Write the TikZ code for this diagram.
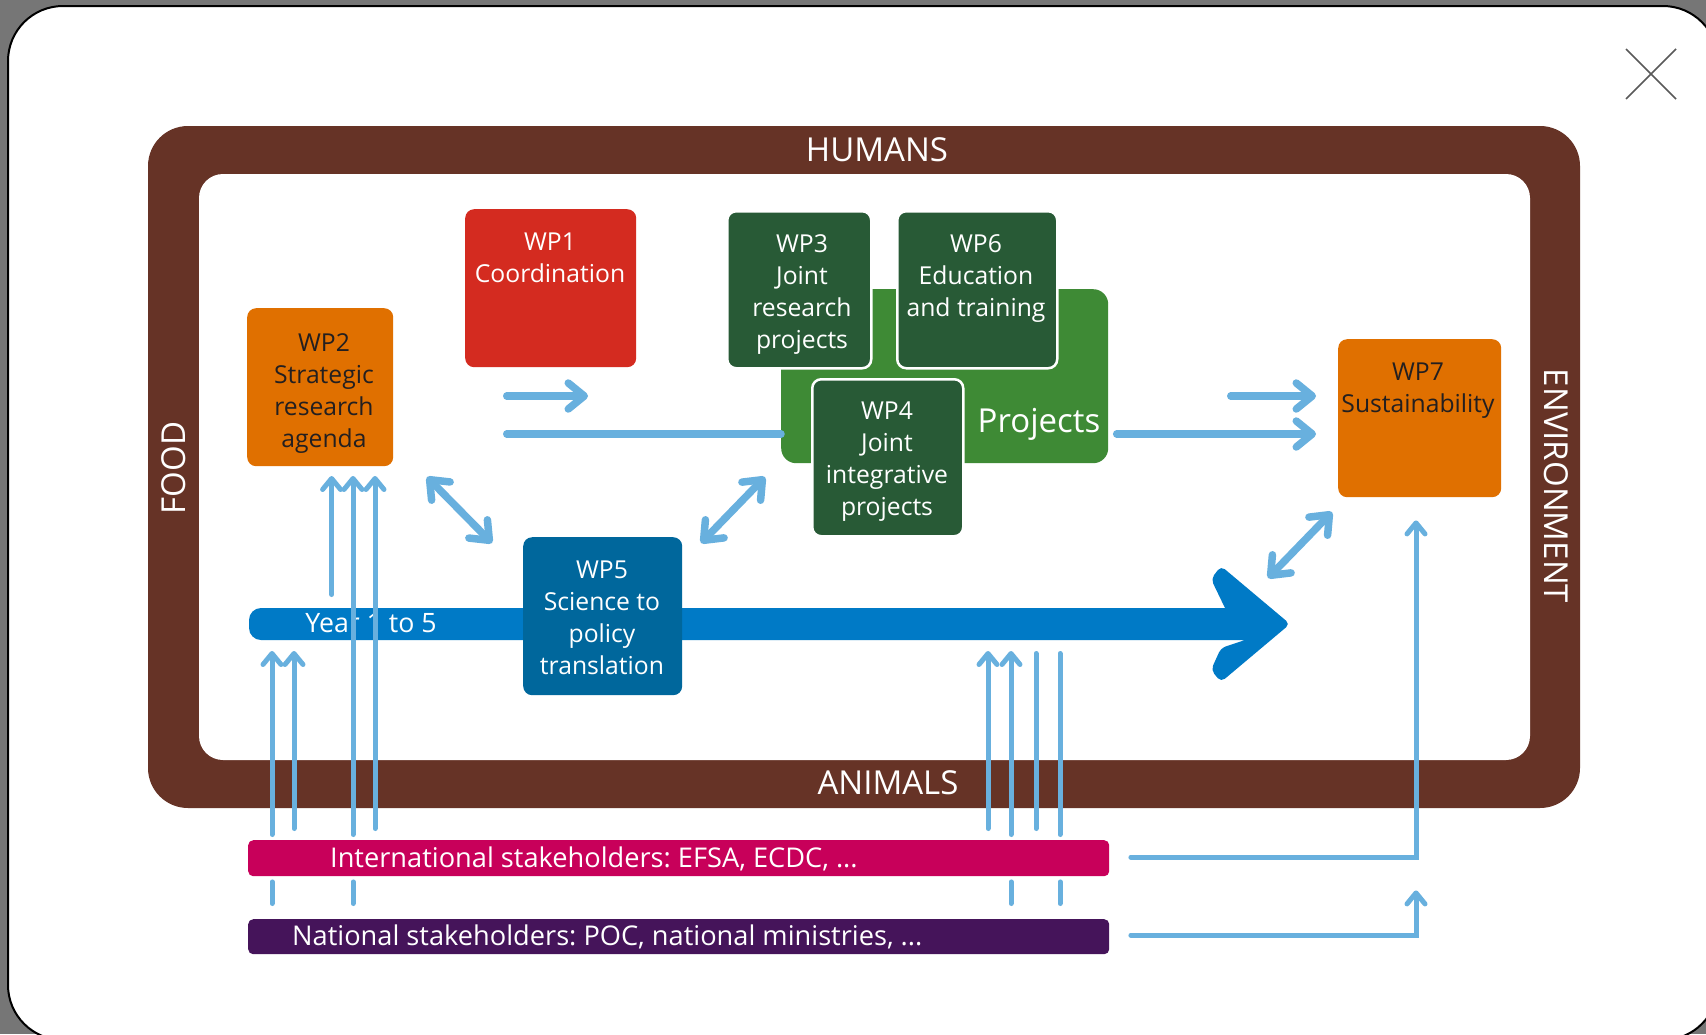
\documentclass[tikz,border=0pt]{standalone}
\usepackage{fontspec}
\setmainfont{Open Sans}
\usetikzlibrary{arrows.meta}
\definecolor{bgray}{HTML}{767676}
\definecolor{framebrown}{HTML}{663326}
\definecolor{wpred}{HTML}{D42B20}
\definecolor{wporange}{HTML}{E07000}
\definecolor{wpdgreen}{HTML}{285A36}
\definecolor{projgreen}{HTML}{3E8A35}
\definecolor{wpblue}{HTML}{00679C}
\definecolor{tlblue}{HTML}{007AC6}
\definecolor{intlpink}{HTML}{C8005A}
\definecolor{natpurple}{HTML}{45145A}
\definecolor{linkblue}{HTML}{68B0DE}
\definecolor{darktext}{HTML}{231F20}
\frenchspacing
\begin{document}
\begin{tikzpicture}[x=1pt,y=-1pt,
  wpbox/.style={rectangle, rounded corners=9pt, inner sep=0pt, anchor=north west},
  wtext/.style={font=\fontsize{24.7pt}{32pt}\selectfont, text=white, align=center, inner sep=0pt, anchor=north},
  dtext/.style={wtext, text=darktext},
  bandtext/.style={font=\fontsize{33pt}{38pt}\selectfont, text=white, inner sep=0pt},
  stktext/.style={font=\fontsize{27.2pt}{32pt}\selectfont, text=white, inner sep=0pt, anchor=base west},
  lnk/.style={draw=linkblue, line width=5pt, line cap=round},
  lnkw/.style={draw=linkblue, line width=7.5pt, line cap=round},
  tipS/.tip={Straight Barb[length=11pt,width=18pt,round]},
  tipL/.tip={Straight Barb[length=16pt,width=26pt,round]},
]
\useasboundingbox (0,0) rectangle (1706,1034);
\fill[bgray] (0,0) rectangle (1706,1034);
% modal
\draw[fill=white, line width=2pt, rounded corners=55pt] (8,6) rectangle (1718,1040);
\draw[black!65, line width=1.6pt] (1626,49) -- (1676,99) (1676,49) -- (1626,99);
% frame
\fill[framebrown, rounded corners=40pt] (148,126) rectangle (1580,808);
\fill[white, rounded corners=24pt] (199,174) rectangle (1530,760);
\node[bandtext] (humans) at (877,150) {HUMANS};
\node[bandtext] (animals) at (888,783) {ANIMALS};
\node[bandtext, rotate=90] (food) at (174,468) {FOOD};
\node[bandtext, rotate=-90] (env) at (1556,486) {ENVIRONMENT};
% timeline
\fill[tlblue] (700,608) -- (1225,608) [rounded corners=5pt] -- (1211,579) -- (1221,566) -- (1290,624) -- (1221,682) -- (1211,670) -- (1221,648) [sharp corners] -- (1245,640) [rounded corners=12pt] -- (249,640) -- (249,608) [sharp corners] -- (700,608) -- cycle;
\node[font=\fontsize{26.7pt}{32pt}\selectfont, text=white, inner sep=0pt, anchor=base] (year) at (371,632.5) {Year 1 to 5};
% boxes
\node[wpbox, fill=projgreen, rounded corners=15pt, minimum width=327pt, minimum height=174pt] (proj) at (781,289) {};
\node[font=\fontsize{33pt}{38pt}\selectfont, text=white, inner sep=0pt, anchor=base] (projt) at (1039,432) {Projects};
\node[wpbox, fill=wpdgreen, draw=white, line width=2.5pt, minimum width=144pt, minimum height=157pt] (wp3) at (726,210) {};
\node[wtext] (wp3t) at (802,234) {WP3\\Joint\\research\\projects};
\node[wpbox, fill=wpdgreen, draw=white, line width=2.5pt, minimum width=160pt, minimum height=157pt] (wp6) at (896,210) {};
\node[wtext] (wp6t) at (976,234) {WP6\\Education\\and training};
\node[wpbox, fill=wpdgreen, draw=white, line width=2.5pt, minimum width=151pt, minimum height=157pt] (wp4) at (811,378) {};
\node[wtext] (wp4t) at (887,402) {WP4\\Joint\\integrative\\projects};
\node[wpbox, fill=wpred, minimum width=171pt, minimum height=158pt] (wp1) at (465,209) {};
\node[wtext] (wp1t) at (550,233) {WP1\\Coordination};
\node[wpbox, fill=wporange, minimum width=146pt, minimum height=158pt] (wp2) at (247,308) {};
\node[dtext] (wp2t) at (324,333) {WP2\\Strategic\\research\\agenda};
\node[wpbox, fill=wpblue, minimum width=159pt, minimum height=158pt] (wp5) at (523,537) {};
\node[wtext] (wp5t) at (602,561) {WP5\\Science to\\policy\\translation};
\node[wpbox, fill=wporange, minimum width=163pt, minimum height=158pt] (wp7) at (1338,339) {};
\node[dtext] (wp7t) at (1418,363) {WP7\\Sustainability};
% stakeholder bars
\node[wpbox, rounded corners=5pt, fill=intlpink, minimum width=861pt, minimum height=36pt] (intl) at (248,840) {};
\node[stktext] (intlt) at (330,867.5) {International stakeholders: EFSA, ECDC, ...};
\node[wpbox, rounded corners=5pt, fill=natpurple, minimum width=861pt, minimum height=35pt] (natl) at (248,919) {};
\node[stktext] (natlt) at (292,945.5) {National stakeholders: POC, national ministries, ...};
% helper coordinates
\coordinate (c1s) at (506.75,396);
\coordinate (c1e) at (588,396);
\coordinate (c7s) at (1230.75,396);
\coordinate (c7e) at (1316,396);
\coordinate (lstart) at (506.75,434);
\coordinate (d1a) at (427,477);
\coordinate (d1b) at (492,543);
\coordinate (d2a) at (701,543);
\coordinate (d2b) at (765,477);
\coordinate (d3a) at (1268,578);
\coordinate (d3b) at (1332,512);
\coordinate (tlbelow) at (0,651);
\coordinate (wp2below) at (0,476);
\coordinate (xL1) at (331.6,0);
\coordinate (xL2) at (353,0);
\coordinate (xL3) at (375,0);
\coordinate (xL4) at (272,0);
\coordinate (xL5) at (294,0);
\coordinate (xR1) at (988,0);
\coordinate (xR2) at (1011,0);
\coordinate (xR3) at (1036,0);
\coordinate (xR4) at (1060,0);
\coordinate (xW7) at (1416,0);
\coordinate (l1bot) at (331.6,594.5);
% thick connectors
\draw[lnkw,-tipL] (c1s) -- (c1e);
\draw[lnkw,-tipL] (c7s) -- (c7e);
\draw[lnkw] (lstart) -- (lstart -| proj.west);
\draw[lnkw,-tipL] ([xshift=8.25pt]proj.east |- lstart) -- (wp7.west |- lstart) [shorten >=22pt];
\draw[lnkw,tipL-tipL] (d1a) -- (d1b);
\draw[lnkw,tipL-tipL] (d2a) -- (d2b);
\draw[lnkw,tipL-tipL] (d3a) -- (d3b);
% thin vertical connectors
\draw[lnk,-tipS] (l1bot) -- (xL1 |- wp2below);
\draw[lnk,-tipS] ([yshift=5.5pt]intl.north -| xL2) -- (xL2 |- wp2below);
\draw[lnk,-tipS] ([yshift=11.5pt]intl.north -| xL3) -- (xL3 |- wp2below);
\draw[lnk,-tipS] ([yshift=5.5pt]intl.north -| xL4) -- (xL4 |- tlbelow);
\draw[lnk,-tipS] ([yshift=11.5pt]intl.north -| xL5) -- (xL5 |- tlbelow);
\draw[lnk,-tipS] ([yshift=11.5pt]intl.north -| xR1) -- (xR1 |- tlbelow);
\draw[lnk,-tipS] ([yshift=5.5pt]intl.north -| xR2) -- (xR2 |- tlbelow);
\draw[lnk] ([yshift=11.5pt]intl.north -| xR3) -- ([yshift=-2.5pt]xR3 |- tlbelow);
\draw[lnk] ([yshift=5.5pt]intl.north -| xR4) -- ([yshift=-2.5pt]xR4 |- tlbelow);
% segments between the stakeholder bars
\draw[lnk] ([yshift=-5.5pt]intl.south -| xL4) -- ([yshift=15.5pt]natl.north -| xL4);
\draw[lnk] ([yshift=-5.5pt]intl.south -| xL2) -- ([yshift=15.5pt]natl.north -| xL2);
\draw[lnk] ([yshift=-5.5pt]intl.south -| xR2) -- ([yshift=15.5pt]natl.north -| xR2);
\draw[lnk] ([yshift=-5.5pt]intl.south -| xR4) -- ([yshift=15.5pt]natl.north -| xR4);
% stakeholders to WP7
\draw[lnk,-tipS] ([xshift=21.5pt,yshift=1pt]intl.east) -| ([yshift=-23pt]xW7 |- wp7.south);
\draw[lnk,-tipS] ([xshift=21.5pt,yshift=1.5pt]natl.east) -| ([yshift=-14pt]xW7 |- intl.south);
\end{tikzpicture}
\end{document}
